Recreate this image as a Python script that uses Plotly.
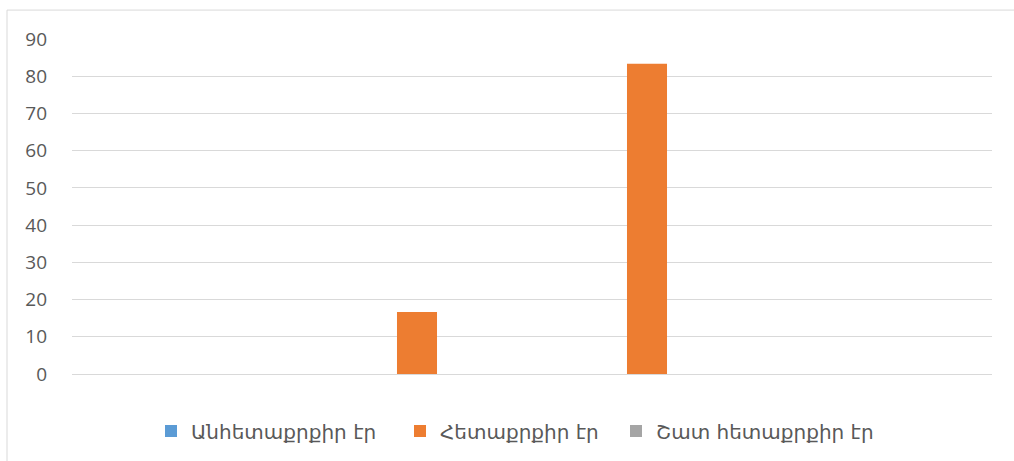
import plotly.graph_objects as go

# Response categories (unlabeled on the axis)
categories = ["1", "2", "3", "4"]

series_names = ["Անհետաքրքիր էր", "Հետաքրքիր էր", "Շատ հետաքրքիր էր"]
not_interesting = [0, 0, 0, 0]
interesting = [0, 16.67, 83.33, 0]
very_interesting = [0, 0, 0, 0]

colors = ["#5B9BD5", "#ED7D31", "#A5A5A5"]
y_ticks = [0, 10, 20, 30, 40, 50, 60, 70, 80, 90]

W, H = 1014, 461
ml, mr, mt, mb = 72, 22, 39, 86
pw, ph = W - ml - mr, H - mt - mb

# left edges (px) of the three legend boxes
legend_left_px = [151, 400, 616]
legend_ids = ["legend", "legend2", "legend3"]

fig = go.Figure()
for name, vals, col, lid in zip(series_names,
                                [not_interesting, interesting, very_interesting],
                                colors, legend_ids):
    fig.add_trace(go.Bar(
        x=categories, y=vals, name=name, legend=lid,
        marker=dict(color=col, line=dict(width=0)),
    ))

legend_font = dict(family="DejaVu Sans, sans-serif", size=20, color="#595959")
legend_y = (375 - 431) / ph
legends = {}
for lid, left in zip(legend_ids, legend_left_px):
    legends[lid] = dict(
        orientation="h", x=(left - ml) / pw, xanchor="left",
        y=legend_y, yanchor="middle", font=legend_font,
        bgcolor="rgba(0,0,0,0)", itemclick=False, itemdoubleclick=False,
    )

fig.update_layout(
    width=W, height=H,
    margin=dict(l=ml, r=mr, t=mt, b=mb),
    paper_bgcolor="white", plot_bgcolor="white",
    barmode="group", bargap=0.478, bargroupgap=0,
    font=dict(family="Open Sans, DejaVu Sans, sans-serif", color="#595959", size=19),
    showlegend=True,
    xaxis=dict(showticklabels=False, showgrid=False, zeroline=False,
               showline=False, ticks=""),
    yaxis=dict(range=[0, 90], tickvals=y_ticks, showgrid=True,
               gridcolor="#D9D9D9", gridwidth=1, zeroline=True,
               zerolinecolor="#D9D9D9", zerolinewidth=1, showline=False,
               ticks="", ticklabelstandoff=24,
               tickfont=dict(family="Open Sans, sans-serif", size=19, color="#595959")),
    shapes=[dict(type="rect", xref="paper", yref="paper",
                 x0=(7 - ml) / pw, x1=1.2, y0=-0.5, y1=1 + (mt - 10) / ph,
                 line=dict(color="#D9D9D9", width=1), layer="below")],
    **legends,
)

fig.write_html("out.html")
